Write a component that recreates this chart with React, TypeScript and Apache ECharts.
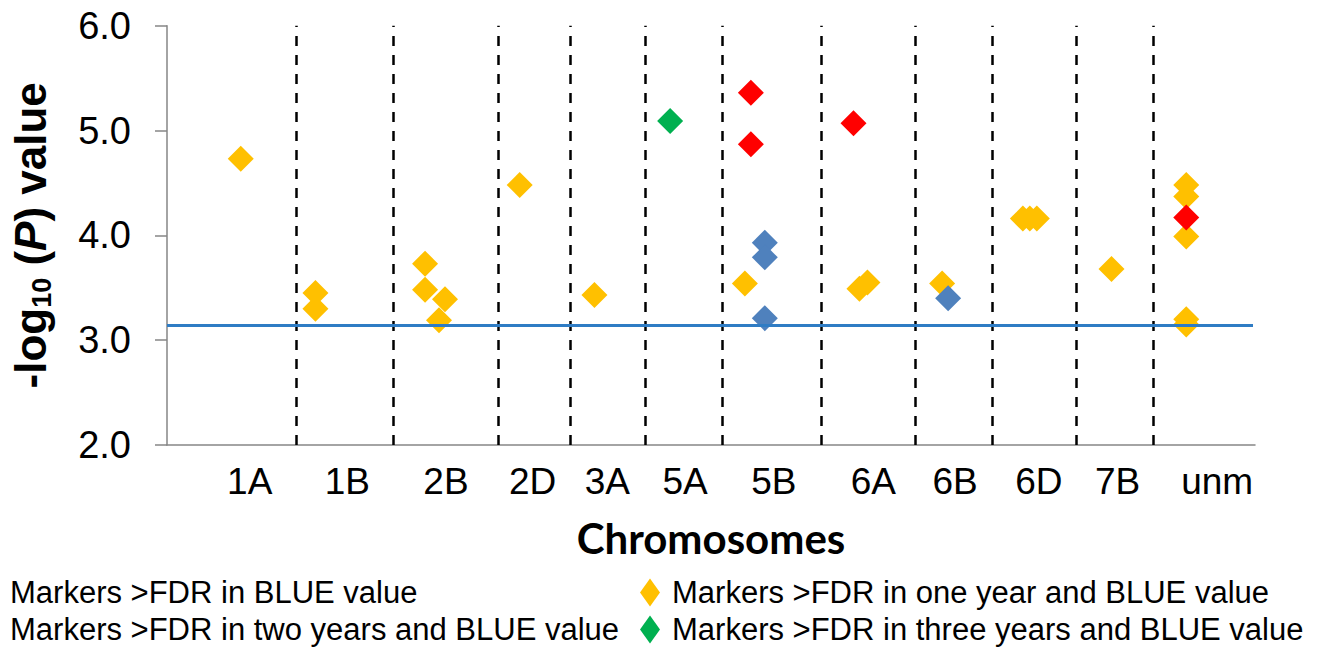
import React, { useEffect, useRef } from "react";
import * as echarts from "echarts";

// Chromosome groups along the horizontal position axis
const chromosomes = ["1A", "1B", "2B", "2D", "3A", "5A", "5B", "6A", "6B", "6D", "7B", "unm"];
const chromosomeLabelX = [8.3, 18.1, 28.0, 36.7, 44.2, 52.0, 60.9, 70.9, 79.1, 87.5, 95.4, 105.4];
const chromosomeBoundaries = [13.0, 22.7, 33.2, 40.5, 48.0, 55.7, 65.7, 75.1, 82.8, 91.3, 99.0];

// FDR significance threshold for -log10(P)
const fdrThreshold = 3.14;
const thresholdSpan = [0, 109.0];

// [position, -log10(P)]
const blueOnly = [
  [60.0, 3.93],
  [60.0, 3.79],
  [60.0, 3.21],
  [78.4, 3.4],
];
const oneYear = [
  [7.4, 4.73],
  [14.9, 3.45],
  [14.9, 3.3],
  [25.9, 3.73],
  [25.9, 3.48],
  [27.9, 3.39],
  [27.3, 3.19],
  [35.4, 4.48],
  [42.9, 3.43],
  [58.0, 3.54],
  [69.5, 3.49],
  [70.3, 3.55],
  [77.8, 3.54],
  [85.9, 4.16],
  [86.6, 4.16],
  [87.3, 4.16],
  [94.8, 3.68],
  [102.3, 4.48],
  [102.3, 4.37],
  [102.3, 3.99],
  [102.3, 3.2],
  [102.3, 3.15],
];
const twoYears = [
  [58.6, 5.36],
  [58.6, 4.87],
  [68.9, 5.07],
  [102.3, 4.17],
];
const threeYears = [[50.5, 5.09]];

const NAME_BLUE = "Markers >FDR in BLUE value";
const NAME_ONE = "Markers >FDR in one year and BLUE value";
const NAME_TWO = "Markers >FDR in two years and BLUE value";
const NAME_THREE = "Markers >FDR in three years and BLUE value";

const FONT = "'Liberation Sans', Arial, sans-serif";

export default function App() {
  const ref = useRef<HTMLDivElement>(null);

  useEffect(() => {
    if (!ref.current) return;
    const chart = echarts.init(ref.current, undefined, { renderer: "svg" });

    const diamond = (name: string, data: number[][], color: string) => ({
      name,
      type: "scatter",
      data,
      symbol: "diamond",
      symbolSize: 26,
      itemStyle: { color, opacity: 1 },
      z: 3,
    });

    // one legend entry per block, arranged in two columns
    const legendEntry = (name: string, left: number, top: number) => ({
      data: [name],
      left,
      top,
      padding: 0,
      itemWidth: 20,
      itemHeight: 28,
      icon: "diamond",
      selectedMode: false,
      textStyle: {
        fontSize: 31,
        fontFamily: FONT,
        color: "#000",
        padding: [0, 0, 0, 7],
      },
    });

    chart.setOption({
      animation: false,
      textStyle: { fontFamily: FONT },
      grid: { left: 163, right: 68, top: 25.7, bottom: 202 },
      xAxis: {
        type: "value",
        min: 0,
        max: 109.2,
        splitLine: { show: false },
        axisTick: { show: false },
        axisLine: { lineStyle: { color: "#868686", width: 1.5 } },
        axisLabel: {
          customValues: chromosomeLabelX,
          formatter: (v: number) => {
            const i = chromosomeLabelX.findIndex((p) => Math.abs(p - v) < 1e-6);
            return i >= 0 ? chromosomes[i] : "";
          },
          fontSize: 37,
          fontFamily: FONT,
          color: "#000",
          margin: 18,
        },
        name: "Chromosomes",
        nameLocation: "middle",
        nameGap: 72,
        nameTextStyle: {
          fontFamily: "Lato, 'Open Sans', sans-serif",
          fontWeight: "bold",
          fontSize: 42,
          color: "#000",
        },
      },
      yAxis: {
        type: "value",
        min: 2,
        max: 6,
        interval: 1,
        splitLine: { show: false },
        axisLine: { show: true, lineStyle: { color: "#868686", width: 1.5 } },
        axisTick: { show: true, length: 12, lineStyle: { color: "#868686", width: 1.5 } },
        axisLabel: {
          formatter: (v: number) => v.toFixed(1),
          fontSize: 38,
          fontFamily: FONT,
          color: "#000",
          margin: 36,
        },
        name: "{a|-log}{b|10}{a| (}{p|P}{a|) value}",
        nameLocation: "middle",
        nameGap: 112,
        nameTextStyle: {
          rich: {
            a: { fontSize: 44, fontWeight: "bold", fontFamily: FONT, color: "#000", lineHeight: 50 },
            b: {
              fontSize: 27,
              fontWeight: "bold",
              fontFamily: FONT,
              color: "#000",
              lineHeight: 30,
              verticalAlign: "bottom",
            },
            p: {
              fontSize: 44,
              fontWeight: "bold",
              fontStyle: "italic",
              fontFamily: FONT,
              color: "#000",
              lineHeight: 50,
            },
          },
        },
      },
      legend: [
        legendEntry(NAME_BLUE, -22, 577),
        legendEntry(NAME_TWO, -22, 614),
        legendEntry(NAME_ONE, 640, 577),
        legendEntry(NAME_THREE, 640, 614),
      ],
      series: [
        {
          name: "boundaries",
          type: "line",
          data: [],
          silent: true,
          markLine: {
            silent: true,
            symbol: "none",
            label: { show: false },
            lineStyle: { type: [10, 9], color: "#000", width: 2.5 },
            data: chromosomeBoundaries.map((v) => ({ xAxis: v })),
          },
          z: 1,
        },
        diamond(NAME_ONE, oneYear, "#FFC000"),
        diamond(NAME_BLUE, blueOnly, "#4F81BD"),
        diamond(NAME_TWO, twoYears, "#FF0000"),
        diamond(NAME_THREE, threeYears, "#00B050"),
        {
          name: "FDR threshold",
          type: "line",
          data: thresholdSpan.map((x) => [x, fdrThreshold]),
          symbol: "none",
          silent: true,
          lineStyle: { color: "#2F7CC4", width: 3 },
          z: 5,
        },
      ],
    });

    return () => chart.dispose();
  }, []);

  return (
    <div
      ref={ref}
      style={{ position: "fixed", left: 0, top: 0, width: 1323, height: 647, background: "#fff" }}
    />
  );
}
